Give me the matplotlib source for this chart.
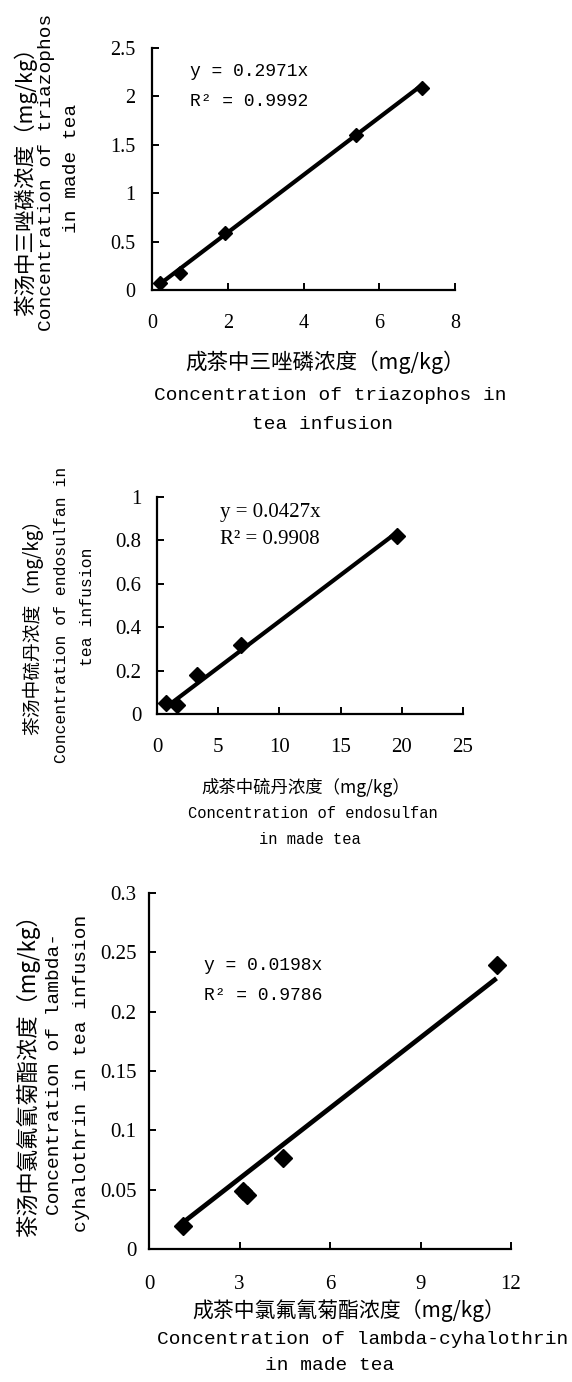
import numpy as np
import matplotlib
matplotlib.use("Agg")
import matplotlib.pyplot as plt

# ---------------- data ----------------
# Panel 1: triazophos
p1_x = [0.22, 0.74, 1.93, 5.38, 7.14]
p1_y = [0.075, 0.18, 0.59, 1.605, 2.09]
p1_slope = 0.2971
p1_eq = "y = 0.2971x"
p1_r2 = "R² = 0.9992"
p1_xticks = [0, 2, 4, 6, 8]
p1_xticklabels = ["0", "2", "4", "6", "8"]
p1_yticks = [0, 0.5, 1, 1.5, 2, 2.5]
p1_yticklabels = ["0", "0.5", "1", "1.5", "2", "2.5"]
p1_ylabel = ["茶汤中三唑磷浓度（mg/kg）", "Concentration of triazophos", "in made tea"]
p1_xlabel = ["成茶中三唑磷浓度（mg/kg）", "Concentration of triazophos in", "tea infusion"]

# Panel 2: endosulfan
p2_x = [0.72, 1.6, 3.3, 6.9, 19.6]
p2_y = [0.052, 0.042, 0.18, 0.318, 0.822]
p2_slope = 0.0427
p2_eq = "y = 0.0427x"
p2_r2 = "R² = 0.9908"
p2_xticks = [0, 5, 10, 15, 20, 25]
p2_xticklabels = ["0", "5", "10", "15", "20", "25"]
p2_yticks = [0, 0.2, 0.4, 0.6, 0.8, 1.0]
p2_yticklabels = ["0", "0.2", "0.4", "0.6", "0.8", "1"]
p2_ylabel = ["茶汤中硫丹浓度（mg/kg）", "Concentration of endosulfan in", "tea infusion"]
p2_xlabel = ["成茶中硫丹浓度（mg/kg）", "Concentration of endosulfan", "in made tea"]

# Panel 3: lambda-cyhalothrin
p3_x = [1.14, 3.13, 3.24, 4.43, 11.52]
p3_y = [0.019, 0.049, 0.0455, 0.0765, 0.239]
p3_slope = 0.0198
p3_eq = "y = 0.0198x"
p3_r2 = "R² = 0.9786"
p3_xticks = [0, 3, 6, 9, 12]
p3_xticklabels = ["0", "3", "6", "9", "12"]
p3_yticks = [0, 0.05, 0.1, 0.15, 0.2, 0.25, 0.3]
p3_yticklabels = ["0", "0.05", "0.1", "0.15", "0.2", "0.25", "0.3"]
p3_ylabel = ["茶汤中氯氟氰菊酯浓度（mg/kg）", "Concentration of lambda-", "cyhalothrin in tea infusion"]
p3_xlabel = ["成茶中氯氟氰菊酯浓度（mg/kg）", "Concentration of lambda-cyhalothrin", "in made tea"]

# ---------------- figure ----------------
W, H = 572, 1382
fig = plt.figure(figsize=(W / 100, H / 100), dpi=100)
fig.patch.set_facecolor("white")

CJK = ["Noto Sans CJK SC", "DejaVu Sans"]
MONO = ["Liberation Mono", "DejaVu Sans Mono"]
SERIF = ["Liberation Serif", "DejaVu Serif"]


def px_axes(l, r, t, b):
    return fig.add_axes([l / W, 1 - b / H, (r - l) / W, (b - t) / H])


def ftext(x, y, s, **kw):
    fig.text(x / W, 1 - y / H, s, ha="center", va="center", **kw)


def panel(ax, xs, ys, slope, xlim, ylim, xt, xtl, yt, ytl, tick_fs, xpad, ypad, ms, lw):
    xs = np.asarray(xs)
    xfit = np.array([xs.min(), xs.max()])
    ax.plot(xfit, slope * xfit, color="black", lw=lw, solid_capstyle="butt", zorder=2)
    ax.plot(xs, ys, "D", color="black", ms=ms, zorder=3)
    ax.set_xlim(*xlim)
    ax.set_ylim(*ylim)
    ax.set_xticks(xt)
    ax.set_xticklabels(xtl, fontfamily=SERIF, fontsize=tick_fs)
    ax.set_yticks(yt)
    ax.set_yticklabels(ytl, fontfamily=SERIF, fontsize=tick_fs)
    for s in ["top", "right"]:
        ax.spines[s].set_visible(False)
    for s in ["left", "bottom"]:
        ax.spines[s].set_linewidth(1.6)
    ax.tick_params(axis="x", direction="in", length=5, width=1.4, pad=xpad)
    ax.tick_params(axis="y", direction="in", length=5, width=1.4, pad=ypad)
    for a in ax.lines:
        a.set_clip_on(False)


# Panel 1
ax1 = px_axes(152, 455, 48, 290)
panel(ax1, p1_x, p1_y, p1_slope, (0, 8), (0, 2.5), p1_xticks, p1_xticklabels,
      p1_yticks, p1_yticklabels, 14.5, 17, 12, 7.5, 3.0)
fig.text(190 / W, 1 - 72 / H, p1_eq, ha="left", va="center", fontfamily=MONO, fontsize=13)
fig.text(190 / W, 1 - 102 / H, p1_r2, ha="left", va="center", fontfamily=MONO, fontsize=13)
ftext(25, 176, p1_ylabel[0], rotation=90, fontfamily=CJK, fontsize=15.5)
ftext(47, 172, p1_ylabel[1], rotation=90, fontfamily=MONO, fontsize=14)
ftext(72, 168, p1_ylabel[2], rotation=90, fontfamily=MONO, fontsize=14)
ftext(325, 362, p1_xlabel[0], fontfamily=CJK, fontsize=15.5)
ftext(330, 396, p1_xlabel[1], fontfamily=MONO, fontsize=14)
ftext(323, 424, p1_xlabel[2], fontfamily=MONO, fontsize=14)

# Panel 2
ax2 = px_axes(157, 463, 497, 714)
panel(ax2, p2_x, p2_y, p2_slope, (0, 25), (0, 1.0), p2_xticks, p2_xticklabels,
      p2_yticks, p2_yticklabels, 15, 17, 11, 8, 3.0)
fig.text(220 / W, 1 - 512 / H, p2_eq, ha="left", va="center", fontfamily=SERIF, fontsize=15)
fig.text(220 / W, 1 - 540 / H, p2_r2, ha="left", va="center", fontfamily=SERIF, fontsize=15)
ftext(33, 622, p2_ylabel[0], rotation=90, fontfamily=CJK, fontsize=13.5)
ftext(62, 615, p2_ylabel[1], rotation=90, fontfamily=MONO, fontsize=11.8)
ftext(88, 607, p2_ylabel[2], rotation=90, fontfamily=MONO, fontsize=11.8)
ftext(306, 787, p2_xlabel[0], fontfamily=CJK, fontsize=12.5)
ftext(313, 813, p2_xlabel[1], fontfamily=MONO, fontsize=11.2)
ftext(310, 840, p2_xlabel[2], fontfamily=MONO, fontsize=11.2)

# Panel 3
ax3 = px_axes(149, 511, 893, 1249)
panel(ax3, p3_x, p3_y, p3_slope, (0, 12), (0, 0.3), p3_xticks, p3_xticklabels,
      p3_yticks, p3_yticklabels, 15, 19, 9, 9, 3.4)
fig.text(204 / W, 1 - 965 / H, p3_eq, ha="left", va="center", fontfamily=MONO, fontsize=13)
fig.text(204 / W, 1 - 995 / H, p3_r2, ha="left", va="center", fontfamily=MONO, fontsize=13)
ftext(28, 1070, p3_ylabel[0], rotation=90, fontfamily=CJK, fontsize=16)
ftext(55, 1074, p3_ylabel[1], rotation=90, fontfamily=MONO, fontsize=14)
ftext(82, 1073, p3_ylabel[2], rotation=90, fontfamily=MONO, fontsize=14)
ftext(349, 1311, p3_xlabel[0], fontfamily=CJK, fontsize=15)
ftext(363, 1340, p3_xlabel[1], fontfamily=MONO, fontsize=14)
ftext(330, 1366, p3_xlabel[2], fontfamily=MONO, fontsize=14)

fig.savefig("out.png", dpi=100, facecolor="white")
